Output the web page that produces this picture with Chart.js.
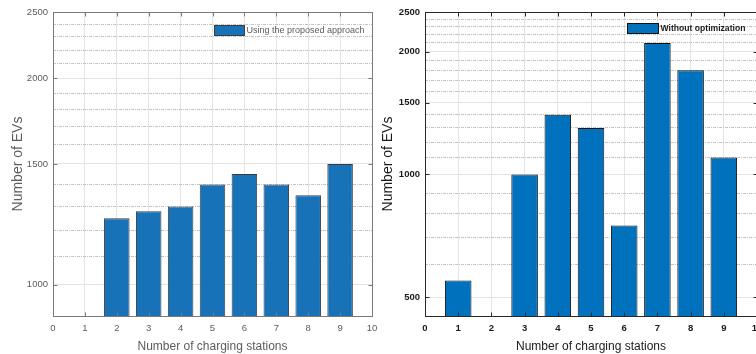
<!DOCTYPE html>
<html><head><meta charset="utf-8">
<script src="https://cdn.jsdelivr.net/npm/chart.js@4/dist/chart.umd.min.js"></script>
<style>
html,body{margin:0;padding:0;background:#fff;width:756px;height:354px;overflow:hidden}
#left{position:absolute;left:0;top:0;width:380px;height:354px}
#rightWrap{position:absolute;left:378px;top:0;width:378px;height:354px;overflow:hidden}
canvas{display:block}
</style></head><body>
<div id="left"><canvas id="c1" width="380" height="354"></canvas></div>
<div id="rightWrap"><canvas id="c2" width="400" height="354"></canvas></div>
<script>
// ---- data ----
const stations = [1, 2, 3, 4, 5, 6, 7, 8, 9];
const evsProposed = [0, 1250, 1280, 1300, 1400, 1450, 1400, 1350, 1500];
const evsWithout = [550, 0, 1000, 1400, 1300, 750, 2100, 1800, 1100];
const xTicks = [0, 1, 2, 3, 4, 5, 6, 7, 8, 9, 10];
const yLabelsLeft = [1000, 1500, 2000, 2500];
const yGridLeft = [900, 1000, 1100, 1200, 1300, 1400, 1500, 1600, 1700, 1800, 1900, 2000, 2100, 2200, 2300, 2400, 2500];
const yLabelsRight = [500, 1000, 1500, 2000, 2500];
const yGridRight = [500, 600, 700, 800, 900, 1000, 1100, 1200, 1300, 1400, 1500, 1600, 1700, 1800, 1900, 2000, 2100, 2200, 2300, 2400, 2500];
const legendProposed = 'Using the proposed approach';
const legendWithout = 'Without optimization';
const xTitle = 'Number of charging stations';
const yTitle = 'Number of EVs';

const SANS = "'Liberation Sans',Arial,sans-serif";

function makeFrame(cfg) {
  return {
    id: 'frame',
    afterDatasetsDraw(chart) {
      const {ctx, chartArea: a, scales: {x, y}} = chart;
      ctx.save();
      ctx.strokeStyle = cfg.frameColor;
      ctx.lineWidth = 1;
      const L = Math.round(a.left) + 0.5, T = Math.round(a.top) + 0.5;
      const R = Math.round(a.right) + 0.5, B = Math.round(a.bottom) + 0.5;
      ctx.strokeRect(L, T, R - L, B - T);
      ctx.beginPath();
      xTicks.forEach(v => {
        const px = Math.round(x.getPixelForValue(v)) + 0.5;
        ctx.moveTo(px, B); ctx.lineTo(px, B - 4);
        ctx.moveTo(px, T); ctx.lineTo(px, T + 4);
      });
      cfg.majors.forEach(v => {
        const py = Math.round(y.getPixelForValue(v)) + 0.5;
        ctx.moveTo(L, py); ctx.lineTo(L + 4, py);
        ctx.moveTo(R, py); ctx.lineTo(R - 4, py);
      });
      ctx.stroke();
      // legend inside the axes
      const ds = chart.data.datasets[0];
      const bx = Math.round(a.left + cfg.legX) + 0.5, by = Math.round(a.top + cfg.legY) + 0.5;
      ctx.fillStyle = ds.backgroundColor;
      ctx.fillRect(bx, by, cfg.legW, cfg.legH);
      ctx.strokeStyle = ds.borderColor;
      ctx.strokeRect(bx, by, cfg.legW, cfg.legH);
      ctx.fillStyle = cfg.textColor;
      ctx.font = cfg.legFont;
      ctx.textBaseline = 'middle';
      ctx.textAlign = 'left';
      ctx.fillText(ds.label, bx + cfg.legW + 2, by + cfg.legH / 2 + 0.5);
      ctx.restore();
    }
  };
}

function makeChart(id, cfg) {
  return new Chart(document.getElementById(id), {
    type: 'bar',
    data: {
      datasets: [{
        label: cfg.label,
        data: stations.map((s, i) => ({x: s, y: cfg.values[i]})),
        backgroundColor: cfg.barColor,
        borderColor: cfg.edgeColor,
        borderWidth: 1,
        barPercentage: 0.8,
        categoryPercentage: 1.0
      }]
    },
    options: {
      responsive: false,
      animation: false,
      devicePixelRatio: 1,
      layout: {padding: {left: 0, top: 12, right: cfg.padRight, bottom: 0}},
      plugins: {legend: {display: false}, tooltip: {enabled: false}},
      scales: {
        x: {
          type: 'linear', min: 0, max: 10, offset: false,
          afterBuildTicks: s => { s.ticks = xTicks.map(v => ({value: v})); },
          afterFit: s => { s.height = 38; s.paddingLeft = 0; s.paddingRight = 0; },
          ticks: {autoSkip: false, maxRotation: 0, padding: 7, color: cfg.textColor,
                  font: {family: SANS, size: cfg.tickSize, weight: cfg.tickWeight}},
          grid: {color: '#e4e4e4', drawTicks: false, offset: false},
          border: {display: false},
          title: {display: true, text: xTitle, color: cfg.textColor,
                  font: {family: SANS, size: 12, lineHeight: 1}, padding: {top: 0, bottom: 1}}
        },
        y: {
          type: 'logarithmic', min: cfg.yMin, max: 2500, beginAtZero: false,
          afterBuildTicks: s => { s.ticks = cfg.grid.map(v => ({value: v})); },
          afterFit: s => { s.width = cfg.yWidth; s.paddingTop = 0; s.paddingBottom = 0; },
          ticks: {autoSkip: false, padding: cfg.tickPad, color: cfg.textColor,
                  font: {family: SANS, size: cfg.tickSize, weight: cfg.tickWeight},
                  callback: v => cfg.majors.includes(v) ? String(v) : ''},
          grid: {
            drawTicks: false,
            color: c => (c.tick && cfg.majors.includes(c.tick.value)) ? '#e4e4e4' : '#c4c4c4'
          },
          border: {display: false,
                   dash: c => (c.tick && !cfg.majors.includes(c.tick.value)) ? [3, 1, 1, 1] : []},
          title: {display: true, text: yTitle, color: cfg.textColor,
                  font: {family: SANS, size: 14, lineHeight: 1}, padding: {top: cfg.titlePad, bottom: 0}}
        }
      }
    },
    plugins: [makeFrame(cfg)]
  });
}

makeChart('c1', {
  label: legendProposed, values: evsProposed, barColor: '#1772b8', edgeColor: '#3c3c3c',
  textColor: '#5c5c5c', frameColor: '#7a7a7a', yMin: 900, grid: yGridLeft, majors: yLabelsLeft,
  yWidth: 53, padRight: 8, tickPad: 5, titlePad: 11, tickSize: 9.5, tickWeight: 'normal',
  legX: 161, legY: 13, legW: 30, legH: 10, legFont: "9px " + SANS
});
makeChart('c2', {
  label: legendWithout, values: evsWithout, barColor: '#0071bd', edgeColor: '#111111',
  textColor: '#1a1a1a', frameColor: '#2a2a2a', yMin: 450, grid: yGridRight, majors: yLabelsRight,
  yWidth: 47, padRight: 21, tickPad: 5, titlePad: 3, tickSize: 9.5, tickWeight: 'bold',
  legX: 202, legY: 11, legW: 31, legH: 10, legFont: "bold 8.6px " + SANS
});
</script>
</body></html>
